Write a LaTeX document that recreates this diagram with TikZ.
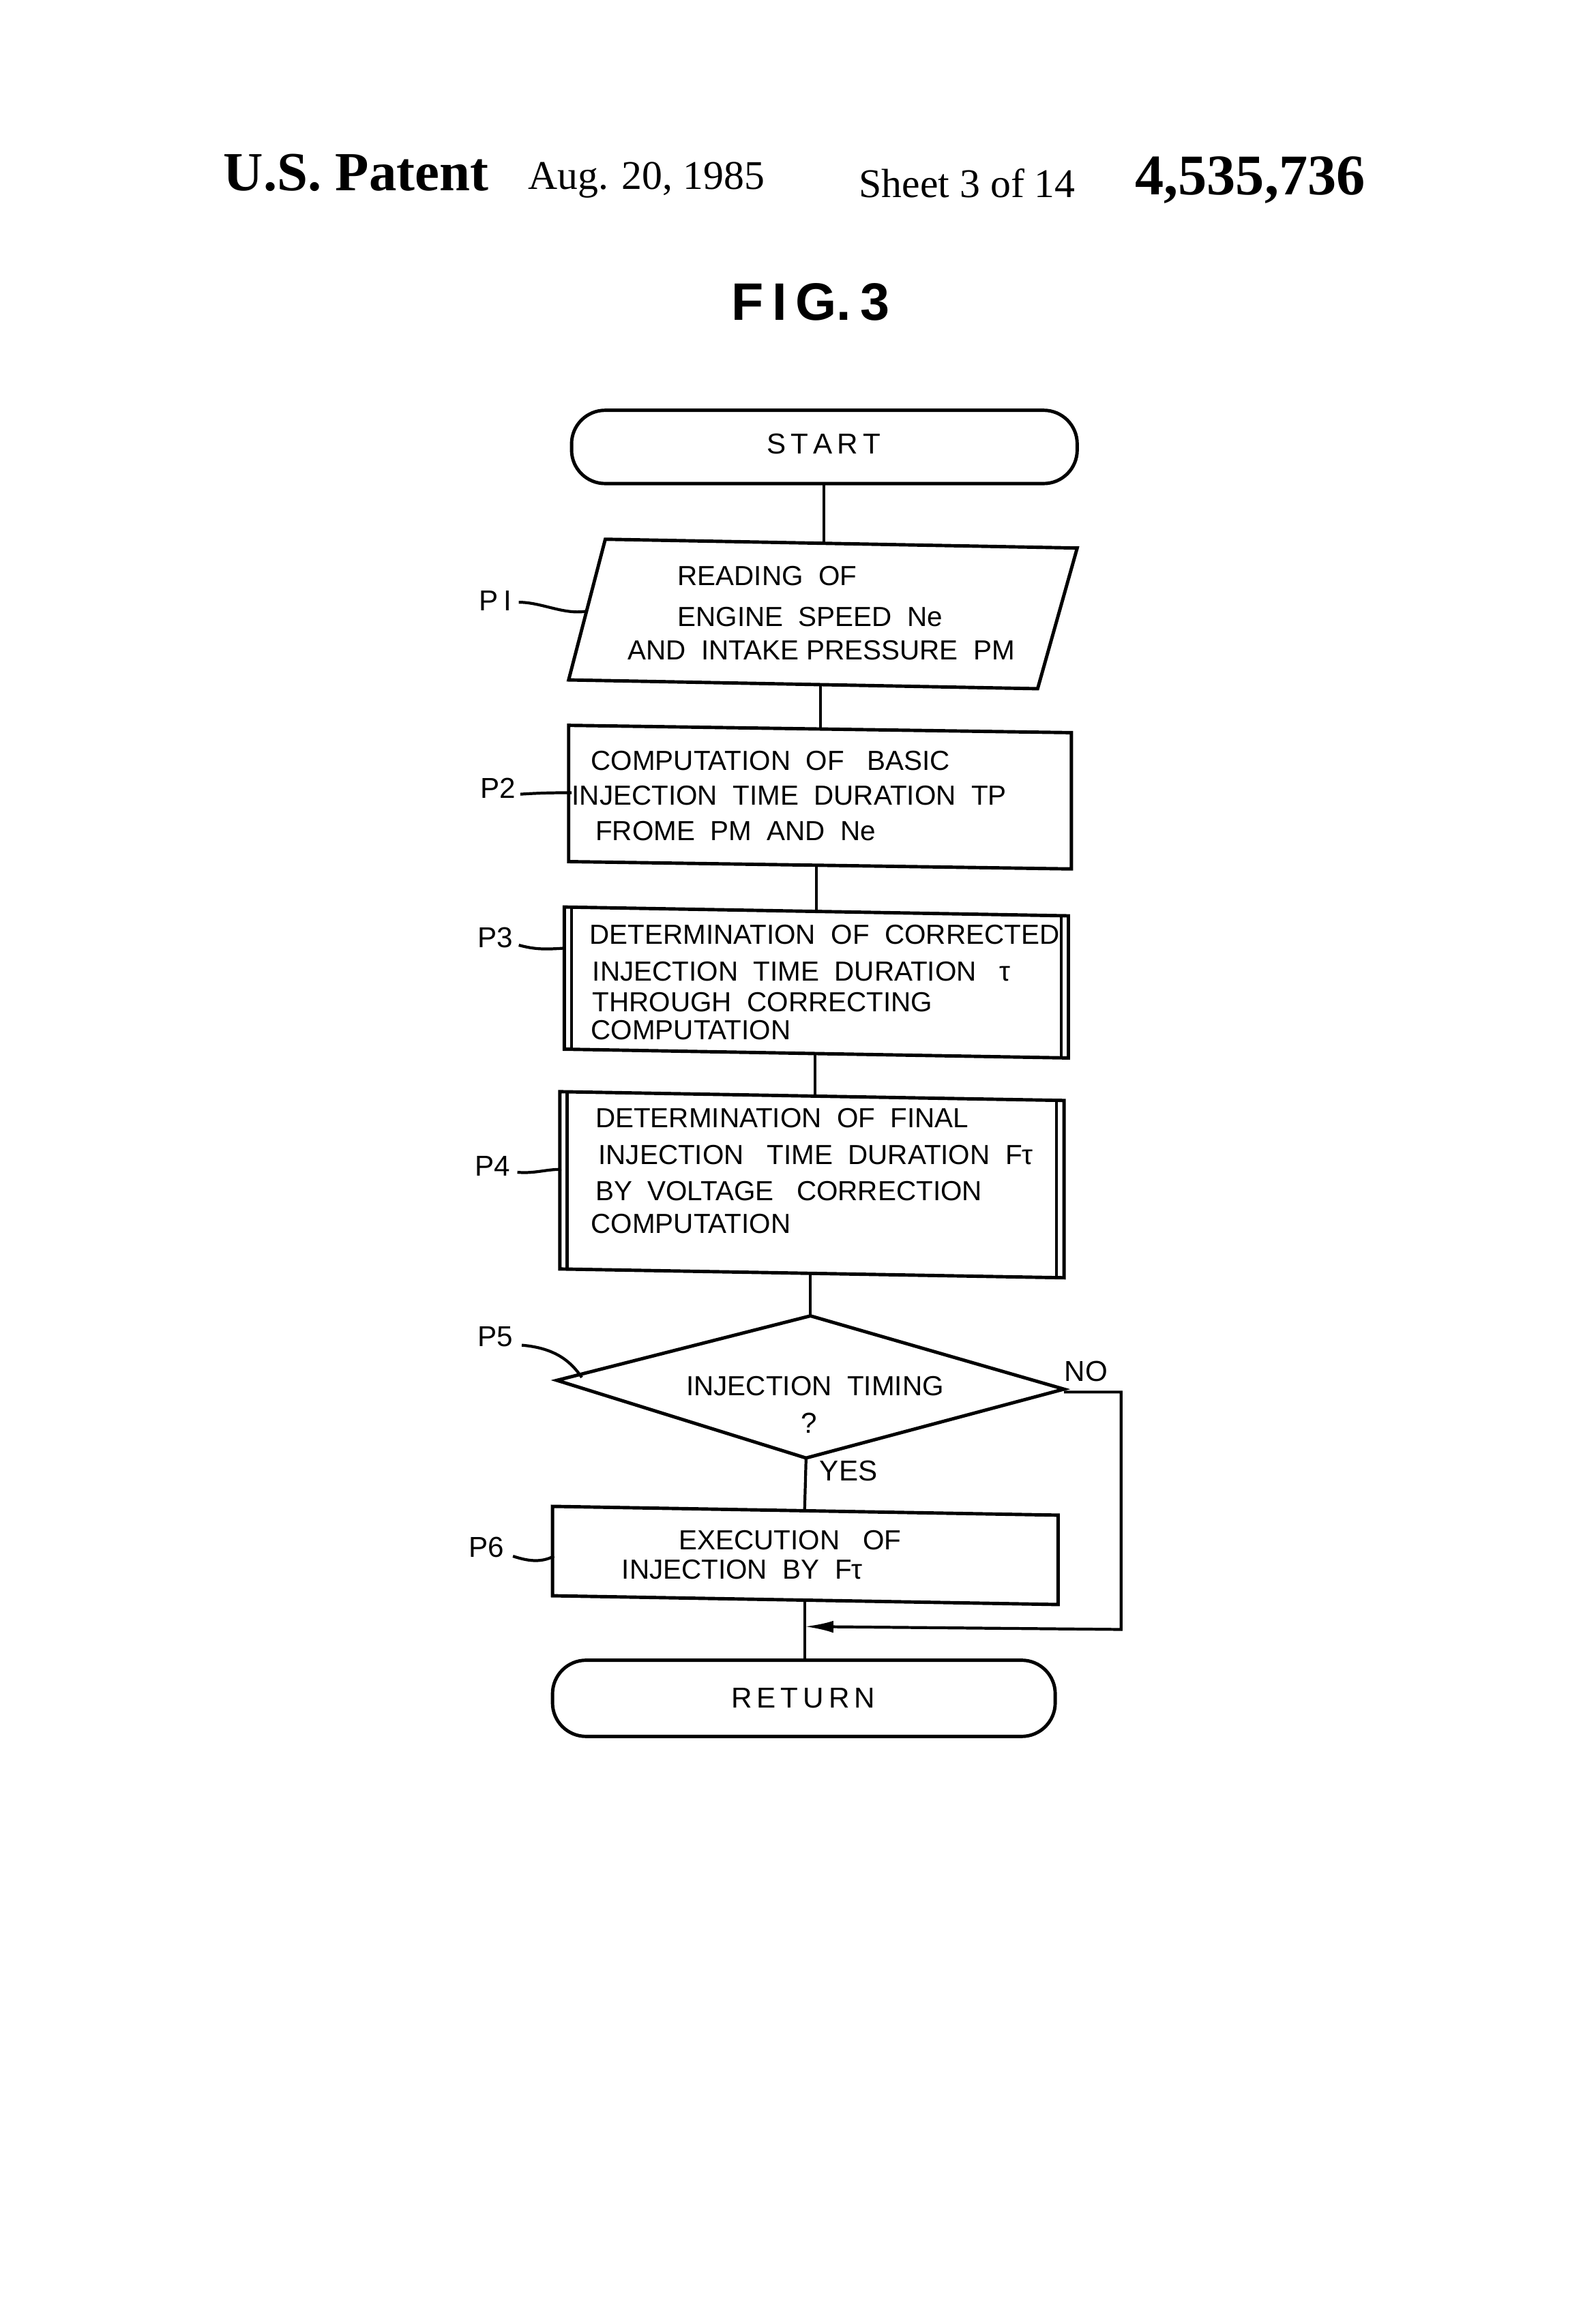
\documentclass[tikz,border=0pt]{standalone}
\usepackage{fontspec}
\usetikzlibrary{arrows.meta}
\setmainfont{Liberation Serif}
\newfontfamily\fcs{Liberation Sans}
\begin{document}
\begin{tikzpicture}[x=0.02148cm,y=-0.02148cm,
  box/.style={draw,line width=1.4pt},
  term/.style={draw,line width=1.4pt,rounded corners=14pt},
  ln/.style={line width=1.2pt},
  tx/.style={font=\fcs\fontsize{11.5}{14}\selectfont,anchor=west,inner sep=0pt},
  lab/.style={font=\fcs\fontsize{12}{14}\selectfont,inner sep=0pt}]
\path[use as bounding box] (0,0) rectangle (1080,1586);
\node[font=\bfseries\fontsize{23}{28}\selectfont] (h1) at (243,118) {U.S. Patent};
\node[font=\fontsize{17}{22}\selectfont] (h2) at (441,123) {Aug. 20, 1985};
\node[font=\fontsize{17}{22}\selectfont] (h3) at (660,125) {Sheet 3 of 14};
\node[font=\bfseries\fontsize{24}{30}\selectfont] (h4) at (853,123) {4,535,736};
\node[font=\fcs\bfseries\fontsize{22}{28}\selectfont] (fig) at (553,206) {F\,I\,G.\,3};
% START
\draw[term] (390,280) rectangle (735,330);
\node[lab] (start) at (562,303) {S\,T\,A\,R\,T};
\coordinate (s1) at (562,330);
% P1
\draw[box] (413,368) -- (735,374) -- (708,470) -- (388,464) -- cycle;
\coordinate (p1t) at (562,370); \coordinate (p1b) at (560,467);
\node[tx] at (462,393) {READING \ OF};
\node[tx] at (462,421) {ENGINE \ SPEED \ Ne};
\node[tx] at (428,444) {AND \ INTAKE PRESSURE \ PM};
% P2
\draw[box] (388,495) -- (731,500) -- (731,593) -- (388,588) -- cycle;
\coordinate (p2t) at (560,497); \coordinate (p2b) at (557,591);
\node[tx] at (403,519) {COMPUTATION \ OF \ \ BASIC};
\node[tx] at (390,543) {INJECTION \ TIME \ DURATION \ TP};
\node[tx] at (406,567) {FROME \ PM \ AND \ Ne};
% P3
\draw[box] (385,619) -- (729,625) -- (729,722) -- (385,716) -- cycle;
\draw[ln] (390,620) -- (390,717); \draw[ln] (724,625) -- (724,721);
\coordinate (p3t) at (557,621); \coordinate (p3b) at (556,719);
\node[tx] at (402,638) {DETERMINATION \ OF \ CORRECTED};
\node[tx] at (404,663) {INJECTION \ TIME \ DURATION \ \ τ};
\node[tx] at (404,684) {THROUGH \ CORRECTING};
\node[tx] at (403,703) {COMPUTATION};
% P4
\draw[box] (382,745) -- (726,751) -- (726,872) -- (382,866) -- cycle;
\draw[ln] (387,746) -- (387,867); \draw[ln] (721,751) -- (721,871);
\coordinate (p4t) at (556,747); \coordinate (p4b) at (553,869);
\node[tx] at (406,763) {DETERMINATION \ OF \ FINAL};
\node[tx] at (408,788) {INJECTION \ \ TIME \ DURATION \ Fτ};
\node[tx] at (406,813) {BY \ VOLTAGE \ \ CORRECTION};
\node[tx] at (403,835) {COMPUTATION};
% P5
\draw[box] (553,898) -- (726,948) -- (550,995) -- (380,942) -- cycle;
\coordinate (p5t) at (553,898); \coordinate (p5b) at (550,995); \coordinate (p5r) at (726,950);
\node[tx] at (468,946) {INJECTION \ TIMING};
\node[lab] at (552,971) {?};
\node[lab] at (579,1004) {YES};
\node[lab] at (741,936) {NO};
% P6
\draw[box] (377,1028) -- (722,1034) -- (722,1095) -- (377,1089) -- cycle;
\coordinate (p6t) at (549,1031); \coordinate (p6b) at (549,1092);
\node[tx] at (463,1051) {EXECUTION \ \ OF};
\node[tx] at (424,1071) {INJECTION \ BY \ Fτ};
% RETURN
\draw[term] (377,1133) rectangle (720,1185);
\node[lab] (ret) at (548,1159) {R\,E\,T\,U\,R\,N};
\coordinate (rt) at (549,1133); \coordinate (j) at (549,1110);
% connectors
\draw[ln] (s1) -- (p1t); \draw[ln] (p1b) -- (p2t); \draw[ln] (p2b) -- (p3t);
\draw[ln] (p3b) -- (p4t); \draw[ln] (p4b) -- (p5t); \draw[ln] (p5b) -- (p6t);
\draw[ln] (p6b) -- (rt);
\coordinate (n1) at (765,950); \coordinate (n2) at (765,1112);
\draw[ln,-{Latex[length=12pt,width=5pt]}] (p5r) -- (n1) -- (n2) -- (j);
% labels
\node[lab] (l1) at (338,410) {P\,I};
\draw[ln] (354,411) .. controls (370,411) and (385,420) .. (401,417);
\node[lab] (l2) at (340,538) {P2};
\draw[ln] (355,542) .. controls (370,541) and (380,541) .. (390,541);
\node[lab] (l3) at (338,640) {P3};
\draw[ln] (354,645) .. controls (365,648) and (372,648) .. (386,647);
\node[lab] (l4) at (336,796) {P4};
\draw[ln] (353,800) .. controls (365,801) and (372,798) .. (383,798);
\node[lab] (l5) at (338,912) {P5};
\draw[ln] (356,918) .. controls (380,920) and (390,930) .. (397,940);
\node[lab] (l6) at (332,1056) {P6};
\draw[ln] (350,1062) .. controls (362,1066) and (370,1066) .. (378,1062);
\end{tikzpicture}
\end{document}
